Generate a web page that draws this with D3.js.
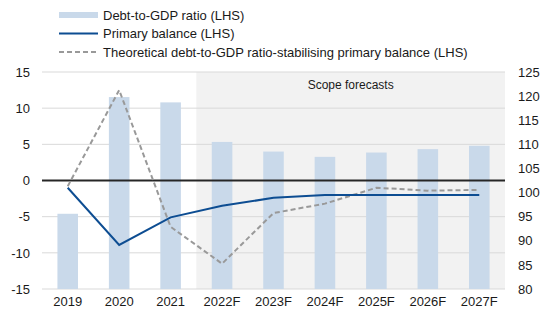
<!DOCTYPE html>
<html>
<head>
<meta charset="utf-8">
<script src="https://cdn.jsdelivr.net/npm/d3@7"></script>
<style>
  html, body { margin: 0; padding: 0; background: #fff; }
  svg { display: block; font-family: "Liberation Sans", Arial, sans-serif; }
</style>
</head>
<body>
<svg id="chart" width="550" height="322"></svg>
<script>
// Years shown on the x axis
const categories = ["2019", "2020", "2021", "2022F", "2023F", "2024F", "2025F", "2026F", "2027F"];
// Debt-to-GDP ratio, % of GDP (right axis)
const debtRatio = [95.6, 119.8, 118.7, 110.5, 108.5, 107.4, 108.3, 109.0, 109.7];
// Primary balance, % of GDP (left axis)
const primaryBalance = [-1.0, -8.9, -5.1, -3.5, -2.4, -2.0, -2.0, -2.0, -2.0];
// Debt-stabilising primary balance, % of GDP (left axis)
const stabilisingBalance = [-0.8, 12.5, -6.4, -11.5, -4.5, -3.2, -1.0, -1.4, -1.3];
// Axis ticks
const leftTicks = [-15, -10, -5, 0, 5, 10, 15];
const rightTicks = [80, 85, 90, 95, 100, 105, 110, 115, 120, 125];
// First forecast year
const forecastStart = "2022F";

const legendItems = [
  { label: "Debt-to-GDP ratio (LHS)", type: "bar" },
  { label: "Primary balance (LHS)", type: "line" },
  { label: "Theoretical debt-to-GDP ratio-stabilising primary balance (LHS)", type: "dash" }
];

const colors = {
  bar: "#c9d9ea",
  line: "#0d4d92",
  dash: "#999999",
  grid: "#d9d9d9",
  shade: "#f2f2f2",
  zero: "#262626",
  text: "#1a1a1a"
};

const svg = d3.select("#chart");
const m = { left: 42, right: 505, top: 72, bottom: 289 };

const x = d3.scaleBand().domain(categories).range([m.left, m.right]).paddingInner(0.6).paddingOuter(0.3);
const xc = d => x(d) + x.bandwidth() / 2;
const yL = d3.scaleLinear().domain([-15, 15]).range([m.bottom, m.top]);
const yR = d3.scaleLinear().domain([80, 125]).range([m.bottom, m.top]);

// Plain hyphen for negative tick labels
const plain = d => String(d);

// Shaded forecast period
const step = x.step();
const shadeX = x(forecastStart) - (step - x.bandwidth()) / 2;
svg.append("rect")
  .attr("x", shadeX).attr("y", m.top)
  .attr("width", m.right - shadeX).attr("height", m.bottom - m.top)
  .attr("fill", colors.shade);

// Gridlines
svg.append("g").selectAll("line").data(leftTicks).join("line")
  .attr("x1", m.left).attr("x2", m.right)
  .attr("y1", d => yL(d)).attr("y2", d => yL(d))
  .attr("stroke", colors.grid).attr("stroke-width", 1);

// Debt ratio bars (right axis, from the baseline)
svg.append("g").selectAll("rect").data(categories).join("rect")
  .attr("x", d => x(d))
  .attr("width", x.bandwidth())
  .attr("y", (d, i) => yR(debtRatio[i]))
  .attr("height", (d, i) => yR(80) - yR(debtRatio[i]))
  .attr("fill", colors.bar);

// Zero line
svg.append("line")
  .attr("x1", m.left).attr("x2", m.right)
  .attr("y1", yL(0)).attr("y2", yL(0))
  .attr("stroke", colors.zero).attr("stroke-width", 2);

// Forecast label
svg.append("text")
  .attr("x", (shadeX + m.right) / 2).attr("y", 89)
  .attr("text-anchor", "middle")
  .attr("font-size", 12).attr("fill", colors.text)
  .text("Scope forecasts");

const line = d3.line().x((d, i) => xc(categories[i])).y(d => yL(d));

svg.append("path").datum(stabilisingBalance)
  .attr("d", line)
  .attr("fill", "none").attr("stroke", colors.dash)
  .attr("stroke-width", 2).attr("stroke-dasharray", "5,3");

svg.append("path").datum(primaryBalance)
  .attr("d", line)
  .attr("fill", "none").attr("stroke", colors.line)
  .attr("stroke-width", 2);

// Left axis
const axL = svg.append("g").attr("transform", `translate(${m.left},0)`)
  .call(d3.axisLeft(yL).tickValues(leftTicks).tickSize(0).tickPadding(12).tickFormat(plain));
axL.select(".domain").remove();
axL.selectAll("text").attr("font-size", 13).attr("fill", colors.text)
  .attr("font-family", "Liberation Sans, Arial, sans-serif");

// Right axis
const axR = svg.append("g").attr("transform", `translate(${m.right},0)`)
  .call(d3.axisRight(yR).tickValues(rightTicks).tickSize(0).tickPadding(13).tickFormat(plain));
axR.select(".domain").remove();
axR.selectAll("text").attr("font-size", 13).attr("fill", colors.text)
  .attr("font-family", "Liberation Sans, Arial, sans-serif");

// Bottom axis
const axB = svg.append("g").attr("transform", `translate(0,${m.bottom})`)
  .call(d3.axisBottom(x).tickSize(0).tickPadding(8));
axB.select(".domain").remove();
axB.selectAll("text").attr("font-size", 13).attr("fill", colors.text)
  .attr("font-family", "Liberation Sans, Arial, sans-serif");

// Legend
const lg = svg.append("g").attr("transform", "translate(59,0)");
const rowY = [15, 33.5, 52];
legendItems.forEach((it, i) => {
  const g = lg.append("g").attr("transform", `translate(0,${rowY[i]})`);
  if (it.type === "bar") {
    g.append("rect").attr("x", 0).attr("y", -3).attr("width", 39).attr("height", 6).attr("fill", colors.bar);
  } else {
    g.append("line").attr("x1", 0).attr("x2", 39).attr("y1", 0).attr("y2", 0)
      .attr("stroke", it.type === "line" ? colors.line : colors.dash)
      .attr("stroke-width", 2)
      .attr("stroke-dasharray", it.type === "dash" ? "5,3" : null);
  }
  g.append("text").attr("x", 44).attr("y", 0).attr("dy", "0.35em")
    .attr("font-size", 13).attr("fill", colors.text).text(it.label);
});
</script>
</body>
</html>
